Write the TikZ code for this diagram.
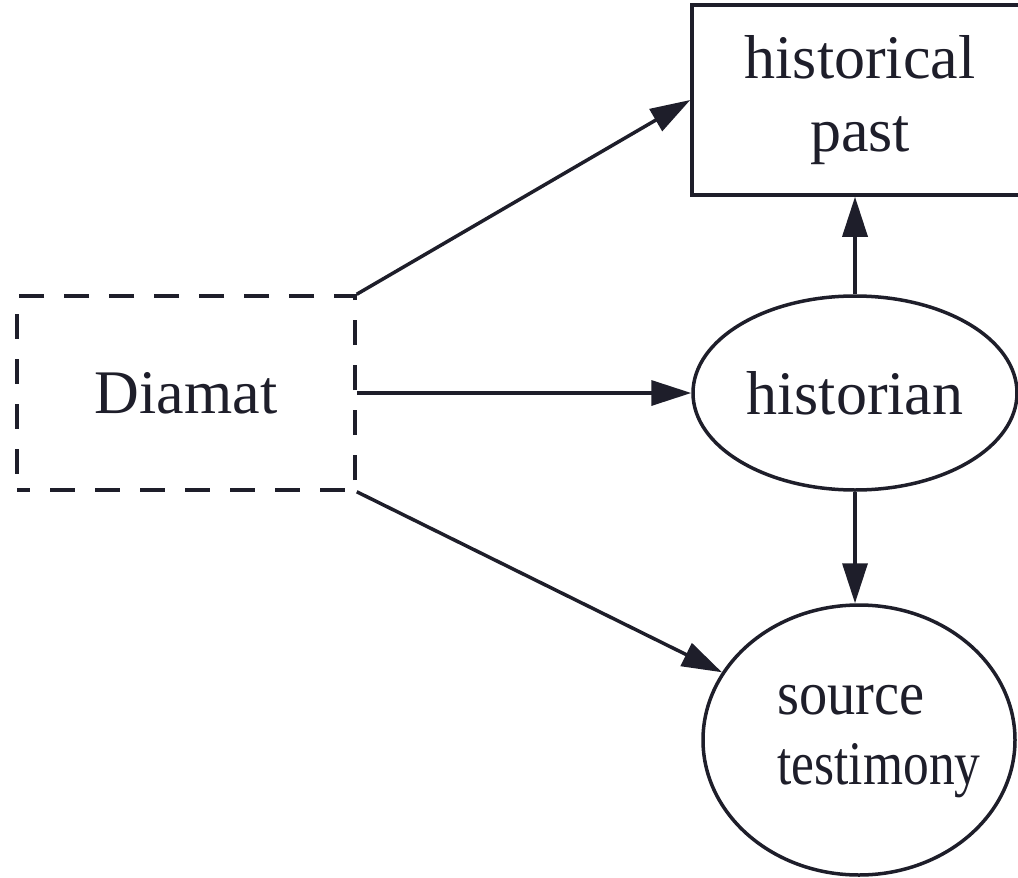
\documentclass[tikz,border=0pt]{standalone}
\usepackage{fontspec}
\setmainfont{Liberation Serif}
\usetikzlibrary{arrows.meta,shapes.geometric}
\definecolor{ink}{RGB}{30,30,42}
\tikzset{
  every node/.style={font=\fontsize{62}{73}\selectfont, text=ink, align=center, inner sep=0pt},
  box/.style={draw=ink, line width=3.5pt, rectangle},
  dbox/.style={draw=ink, line width=3.5pt, rectangle, dash pattern=on 25pt off 20pt, dash phase=12pt},
  oval/.style={draw=ink, line width=3.5pt, ellipse},
  conn/.style={draw=ink, line width=3.5pt, -{Triangle[length=40pt,width=25pt]}}
}
\begin{document}
\begin{tikzpicture}[x=1pt,y=-1pt]
\useasboundingbox (0,0) rectangle (1018,878);
\node[dbox, minimum width=338pt, minimum height=194pt] (d) at (186,393) {Diamat};
\node[box, minimum width=336pt, minimum height=190pt] (p) at (860,100) {historical\\past};
\node[oval, minimum width=324pt, minimum height=194pt] (h) at (855,393) {historian};
\node[oval, minimum width=312pt, minimum height=270pt,
      label={[align=left, xshift=20pt, yshift=-2pt, font=\fontsize{62}{70}\selectfont]center:\scalebox{0.91}[1]{source}\\\scalebox{0.83}[1]{testimony}}] (s) at (859,740) {};
\draw[conn] (d.north east) -- (p.west);
\draw[conn] (d.east) -- (h.west);
\draw[conn] (d.south east) -- (s);
\draw[conn] (h.north) -- (h.north |- p.south);
\draw[conn] (h.south) -- (h.south |- s.north);
\end{tikzpicture}
\end{document}
